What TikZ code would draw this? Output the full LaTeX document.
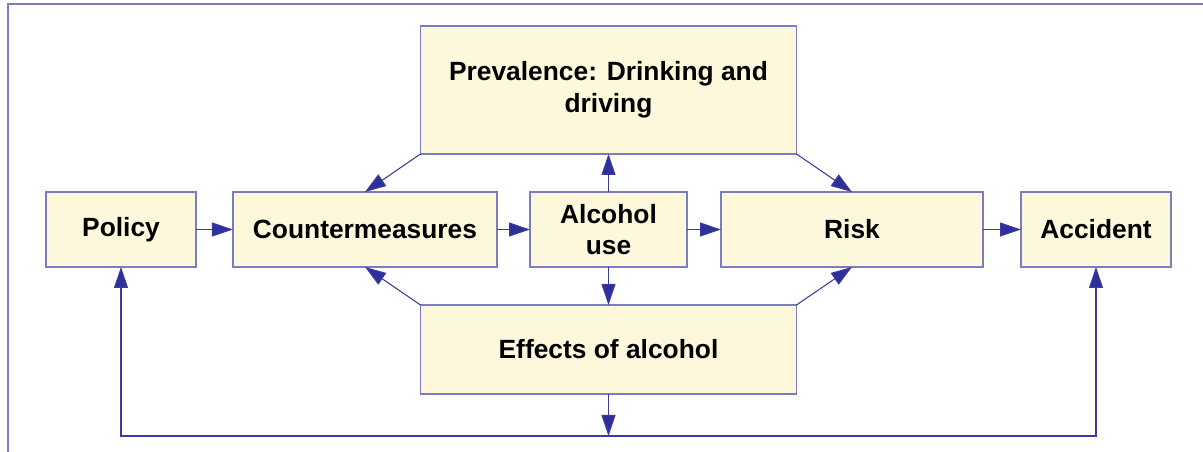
\documentclass[tikz,border=0pt]{standalone}
\usepackage{fontspec}
\setmainfont{Liberation Sans}
\usetikzlibrary{arrows.meta,positioning,calc}
\definecolor{boxfill}{HTML}{FDF7DC}
\definecolor{boxline}{HTML}{7C7CC2}
\definecolor{linkblue}{HTML}{3A3AA0}
\definecolor{tipblue}{HTML}{2F2F99}

\begin{document}
\begin{tikzpicture}[>={Triangle[length=0.42cm,width=0.28cm,fill=tipblue]},box/.style={draw=boxline,line width=0.6pt,fill=boxfill,align=center,minimum height=1.5cm,inner sep=0pt,outer sep=0pt,font=\fontsize{15}{18}\selectfont\bfseries},link/.style={draw=linkblue,line width=0.6pt,->},node distance=7mm]
\useasboundingbox (-2.42,-4.45) rectangle (21.64,4.59);
\draw[boxline,line width=0.8pt] (-2.26,-4.45)--(-2.26,4.51)--(21.64,4.51);
\node[box,minimum width=3cm] (policy) at (0,0) {Policy};
\node[box,minimum width=5.28cm,right=0.74cm of policy] (counter) {Countermeasures};
\node[box,minimum width=3.14cm,right=0.66cm of counter] (alcohol) {Alcohol\\use};
\node[box,minimum width=5.24cm,right=0.68cm of alcohol] (risk) {Risk};
\node[box,minimum width=3cm,right=0.76cm of risk] (accident) {Accident};
\node[box,minimum width=7.52cm,minimum height=2.56cm,above=0.76cm of alcohol] (prev) {Prevalence: Drinking and\\driving};
\node[box,minimum width=7.52cm,minimum height=1.78cm,below=0.76cm of alcohol] (effects) {Effects of alcohol};
\coordinate (bus) at ($(effects.south)+(0,-0.84)$);
\draw[link] (policy)--(counter);\draw[link] (counter)--(alcohol);\draw[link] (alcohol)--(risk);\draw[link] (risk)--(accident);
\draw[link] (alcohol)--(prev);\draw[link] (alcohol)--(effects);
\draw[link] (prev.south west)--(counter.north);\draw[link] (prev.south east)--(risk.north);
\draw[link] (effects.north west)--(counter.south);\draw[link] (effects.north east)--(risk.south);
\draw[link] (effects)--(bus);
\draw[link,<->] (policy.south) |- (bus) -| (accident.south);
\end{tikzpicture}
\end{document}
